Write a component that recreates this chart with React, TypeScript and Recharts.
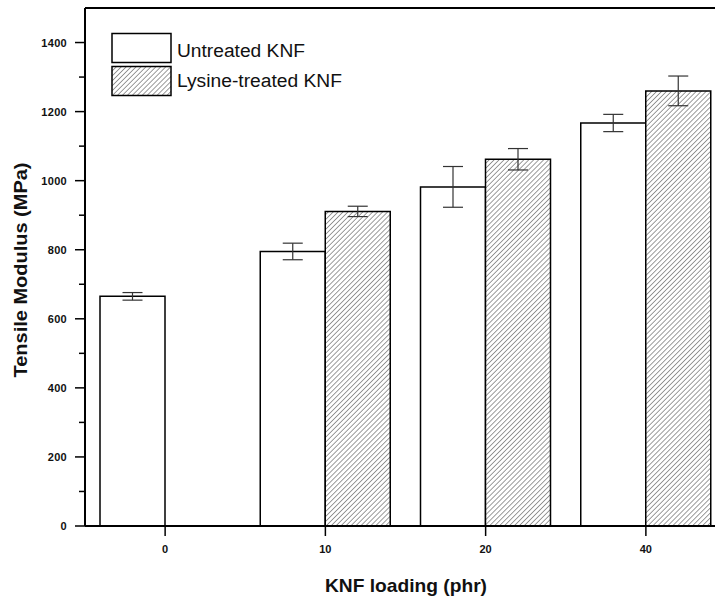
import { BarChart, Bar, XAxis, YAxis, ErrorBar, ReferenceLine } from "recharts";

const categories = ["0", "10", "20", "40"];
const untreated = [665, 795, 982, 1167];
const untreatedErr = [11, 24, 59, 25];
const lysine = [null, 911, 1062, 1260];
const lysineErr = [null, 15, 31, 43];
const yTicks = [0, 100, 200, 300, 400, 500, 600, 700, 800, 900, 1000, 1100, 1200, 1300, 1400];
const seriesNames = ["Untreated KNF", "Lysine-treated KNF"];

const data = categories.map((c, i) => ({
  loading: c,
  untreated: untreated[i],
  untreatedErr: untreatedErr[i],
  lysine: lysine[i],
  lysineErr: lysineErr[i],
}));

const font = "'Liberation Sans', Arial, sans-serif";

function XTick({ x, y, payload }: any) {
  return (
    <g>
      <line x1={x} x2={x} y1={y} y2={y + 10} stroke="#000" strokeWidth={1.5} />
      <text x={x} y={y + 27} textAnchor="middle" fontFamily={font} fontSize={11} fontWeight="bold" fill="#111">
        {payload.value}
      </text>
    </g>
  );
}

// labels only every 200, short unlabeled ticks in between
function YTick({ x, y, payload }: any) {
  const major = Number(payload.value) % 200 === 0;
  return (
    <g>
      <line x1={x - (major ? 10 : 6)} x2={x} y1={y} y2={y} stroke="#000" strokeWidth={1.5} />
      {major && (
        <text x={x - 18} y={y + 4} textAnchor="end" fontFamily={font} fontSize={11} fontWeight="bold" fill="#111" letterSpacing={0.3}>
          {payload.value}
        </text>
      )}
    </g>
  );
}

function Hatch({ id }: { id: string }) {
  return (
    <pattern id={id} patternUnits="userSpaceOnUse" width={3.5} height={3.5} patternTransform="rotate(45)">
      <rect width={3.5} height={3.5} fill="#fff" />
      <line x1={0} y1={0} x2={0} y2={3.5} stroke="#222" strokeWidth={0.9} />
    </pattern>
  );
}

export default function App() {
  return (
    <div style={{ position: "fixed", left: 0, top: 0, width: 715, height: 597, overflow: "hidden", background: "#fff" }}>
      <BarChart
        width={730}
        height={597}
        data={data}
        margin={{ top: 8, right: 4, left: 0, bottom: 0 }}
        barGap={0}
        barSize={65}
      >
        <defs>
          <Hatch id="hatch" />
        </defs>
        <XAxis
          dataKey="loading"
          height={71}
          tickSize={0}
          tickMargin={0}
          tickLine={false}
          axisLine={{ stroke: "#000", strokeWidth: 2 }}
          tick={<XTick />}
          label={{
            content: () => (
              <text x={406} y={592} textAnchor="middle" fontFamily={font} fontSize={19} fontWeight="bold" fill="#111" textLength={162} lengthAdjust="spacingAndGlyphs">
                KNF loading (phr)
              </text>
            ),
          }}
        />
        <YAxis
          width={85}
          domain={[0, 1500]}
          ticks={yTicks}
          interval={0}
          minTickGap={0}
          tickSize={0}
          tickMargin={0}
          tickLine={false}
          axisLine={{ stroke: "#000", strokeWidth: 2 }}
          tick={<YTick />}
          label={{
            content: () => (
              <text
                x={27}
                y={270}
                transform="rotate(-90, 27, 270)"
                textAnchor="middle"
                fontFamily={font}
                fontSize={19}
                fontWeight="bold"
                fill="#111"
                textLength={215}
                lengthAdjust="spacingAndGlyphs"
              >
                Tensile Modulus (MPa)
              </text>
            ),
          }}
        />
        <ReferenceLine y={1500} stroke="#000" strokeWidth={2} />
        <Bar dataKey="untreated" fill="#fff" stroke="#000" strokeWidth={1.5} isAnimationActive={false}>
          <ErrorBar dataKey="untreatedErr" width={10} stroke="#333" strokeWidth={1.2} isAnimationActive={false} />
        </Bar>
        <Bar dataKey="lysine" fill="url(#hatch)" stroke="#000" strokeWidth={1.5} isAnimationActive={false}>
          <ErrorBar dataKey="lysineErr" width={10} stroke="#333" strokeWidth={1.2} isAnimationActive={false} />
        </Bar>
      </BarChart>
      <svg style={{ position: "absolute", left: 105, top: 28 }} width={260} height={75}>
        <defs>
          <Hatch id="hatchLegend" />
        </defs>
        <rect x={7} y={5.5} width={59} height={29} fill="#fff" stroke="#000" strokeWidth={1.5} />
        <rect x={7} y={38.5} width={59} height={29} fill="url(#hatchLegend)" stroke="#000" strokeWidth={1.5} />
        <text x={72} y={29} fontFamily={font} fontSize={18} fill="#111" textLength={128} lengthAdjust="spacingAndGlyphs">
          {seriesNames[0]}
        </text>
        <text x={72} y={59} fontFamily={font} fontSize={18} fill="#111" textLength={165} lengthAdjust="spacingAndGlyphs">
          {seriesNames[1]}
        </text>
      </svg>
    </div>
  );
}
